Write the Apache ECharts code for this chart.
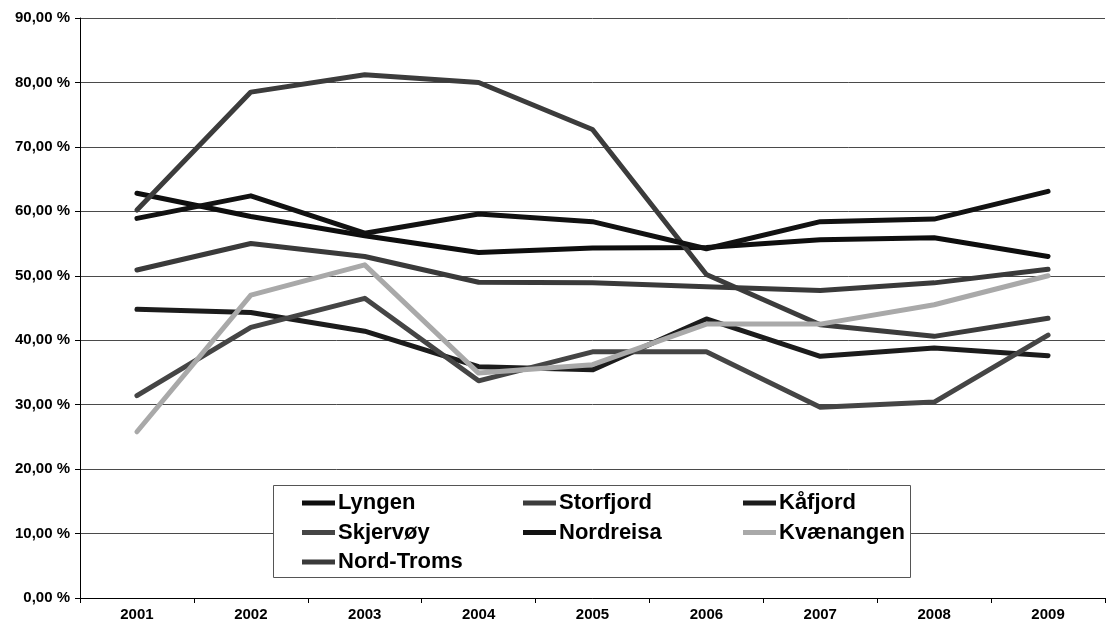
<!DOCTYPE html>
<html>
<head>
<meta charset="utf-8">
<script src="https://cdn.jsdelivr.net/npm/echarts@6/dist/echarts.min.js"></script>
<style>
  html, body { margin: 0; padding: 0; background: #fff; }
  #chart { width: 1116px; height: 630px; }
</style>
</head>
<body>
<div id="chart"></div>
<script>
// Years on the category axis
const years = ['2001', '2002', '2003', '2004', '2005', '2006', '2007', '2008', '2009'];

// Share per municipality (percent)
const lyngen     = [62.8, 59.2, 56.2, 53.6, 54.3, 54.4, 55.6, 55.9, 53.0];
const storfjord  = [60.2, 78.5, 81.2, 80.0, 72.7, 50.2, 42.4, 40.6, 43.4];
const kafjord    = [44.8, 44.3, 41.4, 35.9, 35.4, 43.3, 37.5, 38.8, 37.6];
const skjervoy   = [31.4, 42.0, 46.5, 33.7, 38.2, 38.2, 29.6, 30.4, 40.8];
const nordreisa  = [58.9, 62.4, 56.6, 59.6, 58.4, 54.2, 58.4, 58.8, 63.1];
const kvaenangen = [25.8, 47.0, 51.7, 34.9, 36.2, 42.5, 42.5, 45.5, 50.0];
const nordTroms  = [50.9, 55.0, 53.0, 49.0, 48.9, 48.3, 47.7, 48.9, 51.0];

// Value axis ticks
const yTicks = [0, 10, 20, 30, 40, 50, 60, 70, 80, 90];

const seriesDefs = [
  { name: 'Lyngen',     data: lyngen,     color: '#0e0e0e' },
  { name: 'Storfjord',  data: storfjord,  color: '#3c3c3c' },
  { name: 'Kåfjord',    data: kafjord,    color: '#1c1c1c' },
  { name: 'Skjervøy',   data: skjervoy,   color: '#454545' },
  { name: 'Nordreisa',  data: nordreisa,  color: '#121212' },
  { name: 'Kvænangen',  data: kvaenangen, color: '#a9a9a9' },
  { name: 'Nord-Troms', data: nordTroms,  color: '#3a3a3a' }
];

const fontFamily = '"Liberation Sans", Arial, sans-serif';
const legendIcon = 'path://M0,0 L33,0 L33,5 L0,5 Z';

function legendColumn(names, left) {
  return {
    orient: 'vertical',
    left: left,
    top: 492,
    data: names,
    icon: legendIcon,
    itemWidth: 33,
    itemHeight: 5,
    itemGap: 7.5,
    padding: 0,
    z: 6,
    textStyle: {
      fontFamily: fontFamily,
      fontWeight: 'bold',
      fontSize: 22,
      color: '#000',
      padding: [0, 0, 0, -2],
      lineHeight: 22
    }
  };
}

const chart = echarts.init(document.getElementById('chart'), null, { renderer: 'canvas' });

chart.setOption({
  animation: false,
  backgroundColor: '#fff',
  grid: { left: 80, right: 11, top: 18, bottom: 32 },
  xAxis: {
    type: 'category',
    data: years,
    boundaryGap: true,
    axisLine: { lineStyle: { color: '#000', width: 1 } },
    axisTick: { show: true, length: 5, inside: false, lineStyle: { color: '#000' } },
    axisLabel: {
      margin: 9,
      fontFamily: fontFamily,
      fontWeight: 'bold',
      fontSize: 15,
      color: '#000'
    },
    splitLine: { show: false }
  },
  yAxis: {
    type: 'value',
    min: yTicks[0],
    max: yTicks[yTicks.length - 1],
    interval: 10,
    axisLine: { show: true, lineStyle: { color: '#000', width: 1 } },
    axisTick: { show: true, length: 5, lineStyle: { color: '#000' } },
    axisLabel: {
      margin: 10,
      fontFamily: fontFamily,
      fontWeight: 'bold',
      fontSize: 15,
      color: '#000',
      formatter: v => v.toFixed(2).replace('.', ',') + ' %'
    },
    splitLine: { show: true, lineStyle: { color: '#4a4a4a', width: 1 } }
  },
  legend: [
    legendColumn(['Lyngen', 'Skjervøy', 'Nord-Troms'], 302),
    legendColumn(['Storfjord', 'Nordreisa'], 523),
    legendColumn(['Kåfjord', 'Kvænangen'], 743)
  ],
  graphic: [{
    type: 'rect',
    left: 273,
    top: 485,
    z: 5,
    shape: { width: 637, height: 92 },
    style: { fill: '#fff', stroke: '#555', lineWidth: 1 }
  }],
  series: seriesDefs.map(s => ({
    name: s.name,
    type: 'line',
    data: s.data,
    symbol: 'none',
    color: s.color,
    lineStyle: { color: s.color, width: 5, cap: 'round', join: 'round' },
    itemStyle: { color: s.color },
    z: 3
  }))
});
</script>
</body>
</html>
